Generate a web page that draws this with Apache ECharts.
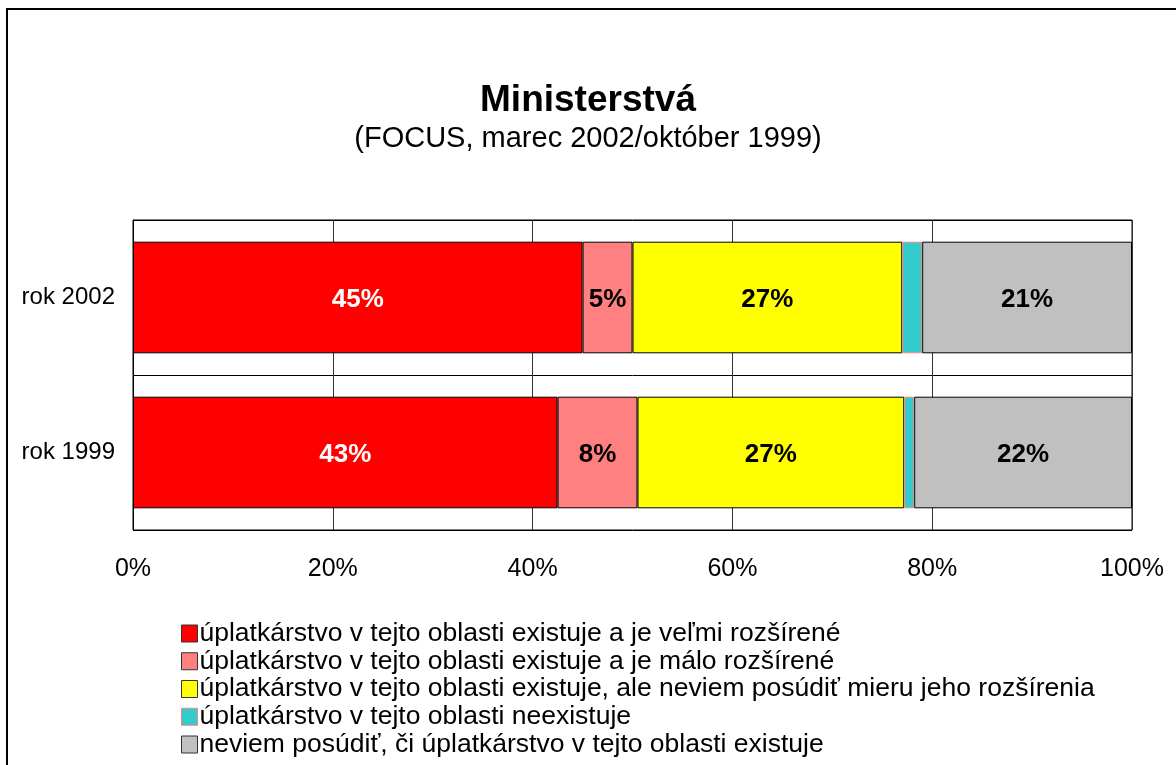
<!DOCTYPE html>
<html>
<head>
<meta charset="utf-8">
<script src="https://cdn.jsdelivr.net/npm/echarts@6/dist/echarts.min.js"></script>
<style>
    html, body { margin: 0; padding: 0; background: #fff; }
    #chart { width: 1176px; height: 765px; }
</style>
</head>
<body>
<div id="chart"></div>
<script>
    // data
    var categories = ['rok 2002', 'rok 1999'];
    var seriesNames = [
        'úplatkárstvo v tejto oblasti existuje a je veľmi rozšírené',
        'úplatkárstvo v tejto oblasti existuje a je málo rozšírené',
        'úplatkárstvo v tejto oblasti existuje, ale neviem posúdiť mieru jeho rozšírenia',
        'úplatkárstvo v tejto oblasti neexistuje',
        'neviem posúdiť, či úplatkárstvo v tejto oblasti existuje'
    ];
    var velmiRozsirene = [45, 42.5];
    var maloRozsirene = [5, 8];
    var neviemMieru = [27, 26.7];
    var neexistuje = [2, 1];
    var neviem = [21, 21.8];
    var xTicks = [0, 20, 40, 60, 80, 100];

    var colors = ['#FF0000', '#FF8080', '#FFFF00', '#33CCCC', '#C0C0C0'];
    var labelColors = ['#fff', '#000', '#000', '#000', '#000'];
    var borders = ['#000', '#000', '#000', '#FF8080', '#000'];
    var allData = [velmiRozsirene, maloRozsirene, neviemMieru, neexistuje, neviem];

    var font = '"Liberation Sans", Arial, sans-serif';
    var chart = echarts.init(document.getElementById('chart'));

    var series = allData.map(function (d, i) {
        return {
            name: seriesNames[i],
            type: 'bar',
            stack: 'total',
            barCategoryGap: '28%',
            data: d,
            itemStyle: { color: colors[i], borderColor: borders[i], borderWidth: 1 },
            label: {
                show: true,
                position: 'inside',
                fontFamily: font,
                fontWeight: 'bold',
                fontSize: 26,
                offset: [0, 2],
                color: labelColors[i],
                formatter: function (p) {
                    return p.value >= 4 ? Math.round(p.value) + '%' : '';
                }
            },
            emphasis: { disabled: true }
        };
    });

    var option = {
        animation: false,
        backgroundColor: '#fff',
        title: {
            text: 'Ministerstvá',
            subtext: '(FOCUS, marec 2002/október 1999)',
            left: 'center',
            top: 77,
            itemGap: 5,
            textStyle: { fontFamily: font, fontSize: 37, fontWeight: 'bold', color: '#000' },
            subtextStyle: { fontFamily: font, fontSize: 29, color: '#000' }
        },
        legend: {
            orient: 'vertical',
            left: 176,
            top: 615,
            height: 200,
            itemWidth: 16,
            itemHeight: 17,
            itemGap: 0.75,
            icon: 'rect',
            selectedMode: false,
            textStyle: { fontFamily: font, fontSize: 26.5, color: '#000', padding: [0, 0, 0, -3] },
            data: seriesNames.map(function (n, i) {
                return { name: n, itemStyle: { borderColor: i === 3 ? '#FF8080' : '#333', borderWidth: 1 } };
            })
        },
        grid: {
            left: 133,
            right: 44,
            top: 220,
            bottom: 235,
            show: true,
            borderColor: '#000',
            borderWidth: 1
        },
        xAxis: {
            type: 'value',
            min: xTicks[0],
            max: xTicks[xTicks.length - 1],
            interval: 20,
            axisLine: { show: false },
            axisTick: { show: false },
            axisLabel: {
                fontFamily: font, fontSize: 25, color: '#000', margin: 27,
                formatter: '{value}%'
            },
            splitLine: { show: true, lineStyle: { color: '#333', width: 1 } }
        },
        yAxis: {
            type: 'category',
            data: categories,
            inverse: true,
            axisLine: { show: true, lineStyle: { color: '#000' } },
            axisTick: { show: false },
            axisLabel: { fontFamily: font, fontSize: 24, color: '#000', margin: 18 },
            splitLine: { show: true, lineStyle: { color: '#000', width: 1 } }
        },
        graphic: [{
            type: 'polyline',
            shape: { points: [[7, 765], [7, 9], [1176, 9]] },
            style: { stroke: '#000', lineWidth: 2, fill: null },
            silent: true
        }],
        series: series
    };

    chart.setOption(option);
</script>
</body>
</html>
